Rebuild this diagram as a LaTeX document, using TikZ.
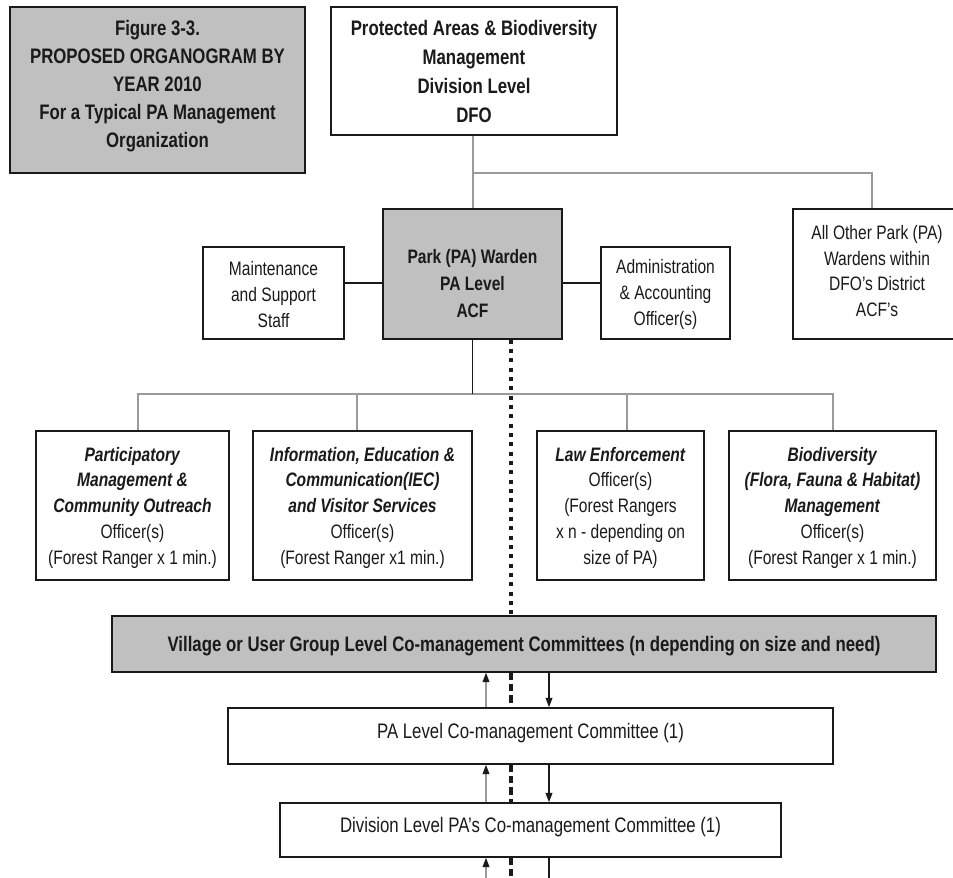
\documentclass[tikz,border=0pt]{standalone}
\usepackage{fontspec}
\setmainfont{Liberation Sans}[FakeStretch=0.8]
\usetikzlibrary{fit,arrows.meta}
\definecolor{boxgray}{HTML}{C0C0C0}
\definecolor{linegray}{HTML}{9A9A9A}
\definecolor{ink}{HTML}{1A1A1A}
\begin{document}
\begin{tikzpicture}[x=0.75pt,y=-0.75pt,
  box/.style={draw=ink, line width=1.1pt, inner sep=0pt},
  graybox/.style={box, fill=boxgray},
  txt/.style={inner sep=0pt, align=center, text=ink},
  headfont/.style={txt, font=\fontsize{15.75}{21}\selectfont\bfseries},
  dfofont/.style={txt, font=\fontsize{15.75}{21.75}\selectfont\bfseries},
  wardfont/.style={txt, font=\fontsize{14.6}{20.3}\selectfont\bfseries},
  bodyfont/.style={txt, font=\fontsize{14.6}{19.3}\selectfont},
  commfont/.style={txt, font=\fontsize{15.75}{19}\selectfont},
  gline/.style={draw=linegray, line width=1.5pt},
  dline/.style={draw=ink, line width=1.1pt},
  dotline/.style={draw=ink, line width=2.3pt, dash pattern=on 3pt off 4pt},
  dashline/.style={draw=ink, line width=2.3pt, dash pattern=on 5.5pt off 3pt},
  uparrow/.style={draw=linegray, line width=1.1pt, -{Triangle[length=7pt,width=5pt,color=ink]}},
  downarrow/.style={draw=ink, line width=1.1pt, -{Triangle[length=7pt,width=5pt]}}
]
\clip (0,0) rectangle (953,878);
\fill[white] (0,0) rectangle (953,878);

% boxes
\node[graybox, fit={(10,7) (305,173)}] (fig) {};
\node[box, fit={(331,7) (617,135)}] (dfo) {};
\node[graybox, fit={(383,209) (562,339)}] (warden) {};
\node[box, fit={(203,247) (344,339)}] (maint) {};
\node[box, fit={(601,247) (730,339)}] (admin) {};
\node[box, fit={(793,209) (961,339)}] (ao) {};
\node[box, fit={(36,431) (229,580)}] (b1) {};
\node[box, fit={(253,431) (472,580)}] (b2) {};
\node[box, fit={(537,431) (704,580)}] (b3) {};
\node[box, fit={(729,431) (936,580)}] (b4) {};
\node[graybox, fit={(112,616) (936,672)}] (village) {};
\node[box, fit={(228,708) (833,764)}] (pa) {};
\node[box, fit={(280,803) (781,857)}] (div) {};

% texts
\node[headfont, yshift=3pt] (figt) at (fig.center)
  {Figure 3-3.\\PROPOSED ORGANOGRAM BY\\YEAR 2010\\For a Typical PA Management\\Organization};
\node[dfofont] (dfot) at (dfo.center)
  {Protected Areas \& Biodiversity\\Management\\Division Level\\DFO};
\node[wardfont, yshift=-7.3pt] (wardent) at (warden.center)
  {Park (PA) Warden\\PA Level\\ACF};
\node[bodyfont, yshift=-1pt] (maintt) at (maint.center)
  {Maintenance\\and Support\\Staff};
\node[bodyfont, yshift=-1pt] (admint) at (admin.center)
  {Administration\\\& Accounting\\Officer(s)};
\node[bodyfont, yshift=2.25pt] (aot) at (ao.center)
  {All Other Park (PA)\\Wardens within\\DFO's District\\ACF's};
\node[bodyfont, yshift=-1.5pt] (b1t) at (b1.center)
  {\textbf{\textit{Participatory}}\\\textbf{\textit{Management \&}}\\\textbf{\textit{Community Outreach}}\\Officer(s)\\(Forest Ranger x 1 min.)};
\node[bodyfont, yshift=-1.5pt] (b2t) at (b2.center)
  {\textbf{\textit{Information, Education \&}}\\\textbf{\textit{Communication(IEC)}}\\\textbf{\textit{and Visitor Services}}\\Officer(s)\\(Forest Ranger x1 min.)};
\node[bodyfont, yshift=-1.5pt] (b3t) at (b3.center)
  {\textbf{\textit{Law Enforcement}}\\Officer(s)\\(Forest Rangers\\x n - depending on\\size of PA)};
\node[bodyfont, yshift=-1.5pt] (b4t) at (b4.center)
  {\textbf{\textit{Biodiversity}}\\\textbf{\textit{(Flora, Fauna \& Habitat)}}\\\textbf{\textit{Management}}\\Officer(s)\\(Forest Ranger x 1 min.)};
\node[headfont, yshift=-1.5pt] (villaget) at (village.center)
  {Village or User Group Level Co-management Committees (n depending on size and need)};
\node[commfont, yshift=2.25pt] (pat) at (pa.center)
  {PA Level Co-management Committee (1)};
\node[commfont, yshift=2.25pt] (divt) at (div.center)
  {Division Level PA's Co-management Committee (1)};

% helper coordinates
\coordinate (j1) at (472.5,173);
\coordinate (aox) at (872,0);
\coordinate (hy) at (0,283);
\coordinate (br) at (472.5,394);
\coordinate (v1) at (138,0);
\coordinate (v2) at (357,0);
\coordinate (v3) at (627,0);
\coordinate (v4) at (833,0);
\coordinate (dx) at (511,0);
\coordinate (ux) at (486,0);
\coordinate (vx) at (549,0);
\coordinate (bot) at (0,882);

% connectors
\draw[gline] (dfo.south -| warden.north) -- (warden.north);
\draw[gline] (j1) -| (ao.north -| aox);
\draw[dline] (maint.east |- hy) -- (warden.west |- hy);
\draw[dline] (admin.west |- hy) -- (warden.east |- hy);
\draw[gline] (b1.north -| v1) |- (br);
\draw[gline] (b2.north -| v2) |- (br);
\draw[gline] (b3.north -| v3) |- (br);
\draw[gline] (b4.north -| v4) |- (br);
\draw[dline] (warden.south) -- (br);

% dotted / dashed reporting line
\draw[dotline] (warden.south -| dx) -- (village.north -| dx);
\draw[dashline] (village.south -| dx) -- (pa.north -| dx);
\draw[dashline] (pa.south -| dx) -- (div.north -| dx);
\draw[dashline] (div.south -| dx) -- (dx |- bot);

% arrows between committees
\draw[uparrow] (pa.north -| ux) -- (village.south -| ux);
\draw[uparrow] (div.north -| ux) -- (pa.south -| ux);
\draw[uparrow] (ux |- bot) -- (div.south -| ux);
\draw[downarrow] (village.south -| vx) -- (pa.north -| vx);
\draw[downarrow] (pa.south -| vx) -- (div.north -| vx);
\draw[dline] (div.south -| vx) -- (vx |- bot);
\end{tikzpicture}
\end{document}
